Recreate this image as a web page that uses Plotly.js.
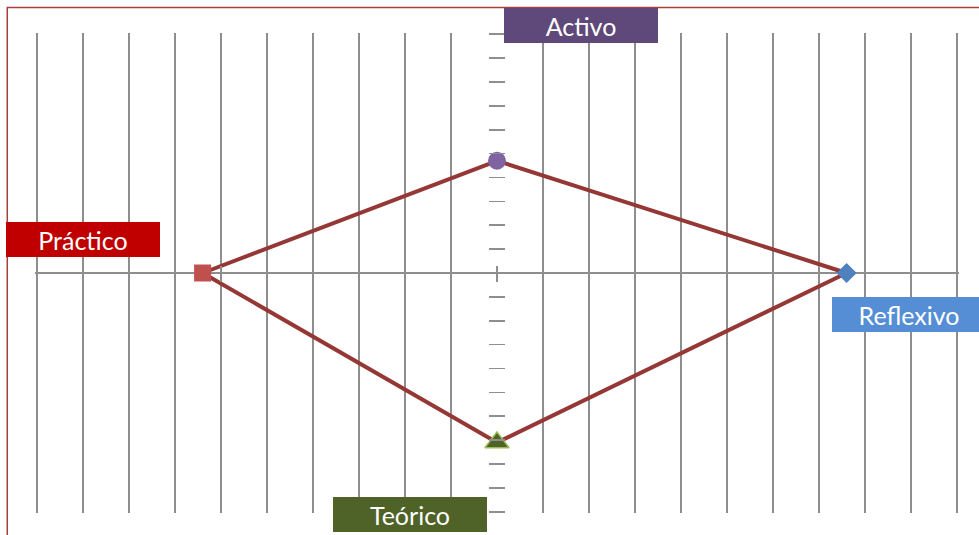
<!DOCTYPE html>
<html>
<head>
<meta charset="utf-8">
<script src="https://cdn.plot.ly/plotly-3.0.1.min.js"></script>
<style>html,body{margin:0;padding:0;background:#fff;}#chart{width:979px;height:535px;}</style>
</head>
<body>
<div id="chart"></div>
<script>
// Data
const labels = ['Activo', 'Reflexivo', 'Teórico', 'Práctico'];
const xVals = [0, 7.6, 0, -6.4];
const yVals = [4.7, 0, -7.1, 0];
const pathOrder = [3, 0, 1, 2, 3];
const gridTicks = [-10,-9,-8,-7,-6,-5,-4,-3,-2,-1,1,2,3,4,5,6,7,8,9,10];
const axisTicks = [-10,-9,-8,-7,-6,-5,-4,-3,-2,-1,0,1,2,3,4,5,6,7,8,9,10];

// Styles
const symbols = ['circle', 'diamond', 'triangle-up', 'square'];
const markerColors = ['#8064a2', '#4f81bd', '#4f6228', '#c0504d'];
const markerSizes = [18, 15.5, 21, 17];
const markerLineColors = ['#8064a2', '#4f81bd', '#9bbb59', '#c0504d'];
const markerLineWidths = [0, 0, 1.5, 0];
const labelBg = ['#5f497a', '#558ed5', '#4f6228', '#c00000'];
const labelShiftX = [84, 62, -87, -120];
const labelShiftY = [135, -41, -72, 34];

const gridColor = '#8e8e8e';
const RX = [-10.0435, 10.0435];
const RY = [-10.05, 10.05];
const ML = 35, MR = 20, MT = 33, MB = 22;
const W = 979 - ML - MR, H = 535 - MT - MB;
const half = 8;

const traces = [
  {
    x: pathOrder.map(i => xVals[i]),
    y: pathOrder.map(i => yVals[i]),
    mode: 'lines',
    line: {color: '#953735', width: 4},
    hoverinfo: 'skip', showlegend: false
  },
  {
    x: xVals, y: yVals, text: labels,
    mode: 'markers',
    marker: {symbol: symbols, color: markerColors, size: markerSizes, opacity: 1,
             line: {color: markerLineColors, width: markerLineWidths}},
    hoverinfo: 'text', showlegend: false, cliponaxis: false
  },
  {x: [], y: [], xaxis: 'x2', yaxis: 'y', hoverinfo: 'skip', showlegend: false}
];

const layout = {
  width: 979, height: 535,
  margin: {l: ML, r: MR, t: MT, b: MB, pad: 0},
  paper_bgcolor: '#ffffff', plot_bgcolor: '#ffffff',
  showlegend: false,
  xaxis: {range: RX, showgrid: true, gridcolor: gridColor, gridwidth: 2,
          tickvals: gridTicks, ticks: '', showticklabels: false, zeroline: false,
          showline: false, fixedrange: true},
  xaxis2: {range: RX, overlaying: 'x', anchor: 'free', position: 0.5 + half / H,
           showgrid: false, zeroline: false, showticklabels: false, showline: false,
           tickvals: axisTicks, ticks: 'outside', ticklen: 2 * half, tickwidth: 1.6,
           tickcolor: gridColor, fixedrange: true},
  yaxis: {range: RY, anchor: 'free', position: 0.5 + half / W,
          showgrid: false, showticklabels: false, showline: false,
          zeroline: true, zerolinecolor: gridColor, zerolinewidth: 1.6,
          tickvals: axisTicks, ticks: 'outside', ticklen: 2 * half, tickwidth: 1.6,
          tickcolor: gridColor, fixedrange: true},
  shapes: [{type: 'rect', xref: 'paper', yref: 'paper', x0: -0.03, x1: 1.2, y0: -0.2, y1: 1.053,
            line: {color: '#a5403d', width: 1.5}, fillcolor: 'rgba(0,0,0,0)'}],
  annotations: labels.map((t, i) => ({
    x: xVals[i], y: yVals[i], xref: 'x', yref: 'y', text: t, showarrow: false,
    xshift: labelShiftX[i], yshift: labelShiftY[i], xanchor: 'center', yanchor: 'middle',
    width: 154, height: 35, align: 'center', valign: 'middle',
    bgcolor: labelBg[i], borderpad: 0, borderwidth: 0,
    font: {family: 'Lato, "Open Sans", sans-serif', size: 25, color: '#ffffff'}
  }))
};

Plotly.newPlot('chart', traces, layout, {displayModeBar: false, staticPlot: true});
</script>
</body>
</html>
